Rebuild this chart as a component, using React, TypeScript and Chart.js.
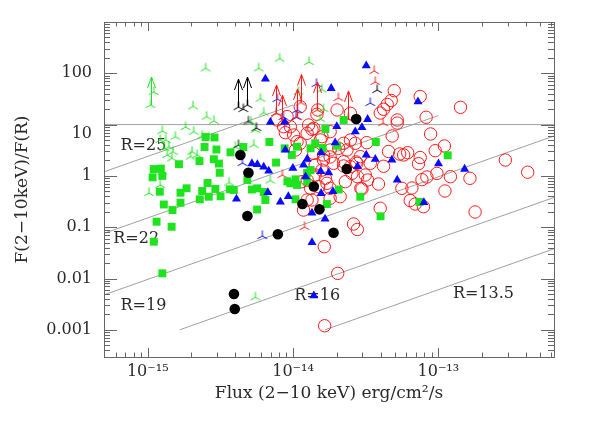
import React, { useEffect, useRef } from "react";
import { Chart, registerables } from "chart.js";

Chart.register(...registerables);

// ---------------- data (flux in units of 1e-15 erg/cm2/s, ratio F(2-10keV)/F(R)) ----------------
const FLUX_UNIT = 1e-15;

const X_MIN = 5.0e-16;
const X_MAX = 6.25e-13;
const Y_MIN = 2.95e-4;
const Y_MAX = 1000;

const X_TICK_EXP = [-15, -14, -13];
const X_TICK_LABELS = ["10⁻¹⁵", "10⁻¹⁴", "10⁻¹³"];
const Y_TICK_EXP = [-3, -2, -1, 0, 1, 2];
const Y_TICK_LABELS: (string | string[])[] = ["0.001", "0.01", "0.1", "1", ["", "10"], "100"];

const X_TITLE = "Flux (2−10 keV) erg/cm²/s";
const Y_TITLE = "F(2−10keV)/F(R)";

// constant-R reference lines: [flux start, ratio start, flux end, ratio end]
const R_LINE_NAMES = ["R=25", "R=22", "R=19", "R=16", "R=13.5"];
const R_LINE_X0 = [0.5, 0.5, 0.5, 1.66, 16.6];
const R_LINE_Y0 = [1.2, 0.076, 0.0048, 0.001, 0.001];
const R_LINE_X1 = [10, 100, 625, 625, 625];
const R_LINE_Y1 = [24, 15, 6.0, 0.38, 0.038];
// label anchors (left edge, vertical centre)
const R_LABEL_X = [0.65, 0.579, 0.65, 10.2, 126];
const R_LABEL_Y = [3.88, 0.058, 0.00295, 0.00462, 0.00499];

const H_LINE_RATIO = 10;

const blackCircleFlux = [4.34, 4.93, 4.85, 7.86, 3.92, 3.97, 11.6, 13.9, 15.2, 19.0, 23.4, 27.2];
const blackCircleRatio = [2.56, 1.15, 0.165, 0.0727, 0.00499, 0.00254, 0.283, 0.62, 0.223, 0.078, 1.36, 12.9];

const blackTriFlux = [4.21, 4.85, 4.55, 4.93, 5.6, 4.21, 37.9];
const blackTriRatio = [22.0, 24.1, 20.1, 11.5, 8.6, 4.0, 47.2];
const blackTriArrow = [1, 1, 0, 0, 0, 0, 0];

const greenTriFlux = [1.045, 1.10, 2.50, 5.80, 8.09, 12.9, 2.05, 5.96, 2.54, 2.85, 1.82, 2.07, 2.37, 2.63, 1.26, 1.55, 1.33, 1.40, 1.36, 1.47, 2.02, 2.19, 1.97, 1.26, 1.22, 1.02, 3.63, 6.98, 5.36, 5.14, 6.28, 10.9, 15.8, 16.2, 15.4, 5.51, 1.22, 1.49, 1.30, 4.01, 5.51];
const greenTriRatio = [24.1, 43.2, 125, 125, 193, 166, 22.7, 32.0, 14.3, 11.8, 8.98, 7.27, 6.08, 5.61, 7.5, 5.81, 5.01, 3.71, 2.56, 2.20, 2.96, 2.56, 2.37, 1.21, 0.665, 0.464, 0.743, 0.813, 4.04, 11.4, 17.1, 43.8, 48.3, 20.1, 12.9, 0.0043, 5.01, 2.96, 3.50, 3.71, 7.85];
const greenTriArrow = [1, 0, 0, 0, 0, 0, 0, 0, 0, 0, 0, 0, 0, 0, 0, 0, 0, 0, 0, 0, 0, 0, 0, 0, 0, 0, 0, 0, 0, 0, 0, 0, 0, 0, 0, 0, 0, 0, 0, 0, 0];

const blueTriFlux = [7.80, 10.7, 14.5, 10.5, 8.58, 34.0, 4.48, 6.15];
const blueTriRatio = [31.5, 19.3, 61.9, 14.1, 14.1, 26.4, 1.78, 0.0674];

const redTriFlux = [36.2, 36.8, 41.7, 8.44, 12.0, 20.5, 7.64, 8.38, 10.7, 11.3, 14.7, 24.0];
const redTriRatio = [111, 67.7, 10.7, 1.04, 0.101, 33.0, 16.8, 10.7, 14.1, 27.0, 19.3, 12.9];
const redTriArrow = [0, 0, 0, 0, 0, 0, 1, 1, 1, 1, 1, 1];

const blueTriangleFlux = [6.45, 6.98, 8.78, 8.85, 5.21, 5.68, 6.28, 6.80, 6.71, 4.08, 8.18, 9.28, 9.97, 31.9, 18.3, 72.4, 20.0, 26.8, 32.6, 29.8, 19.5, 15.6, 31.9, 36.8, 47.9, 100.2, 151.6, 12.5, 11.8, 12.2, 15.5, 17.6, 27.8, 52.1, 18.8, 15.6, 13.5, 16.6, 13.5, 13.9, 79.5];
const blueTriangleRatio = [77.4, 11.2, 11.2, 3.20, 1.74, 1.67, 1.49, 1.25, 0.475, 0.355, 0.310, 0.397, 1.41, 140.6, 51.0, 27.9, 9.18, 7.27, 12.7, 8.78, 4.44, 2.83, 2.56, 2.11, 2.04, 1.73, 1.36, 2.13, 1.63, 0.965, 1.22, 1.16, 1.54, 0.832, 0.497, 0.458, 0.189, 0.1445, 0.0503, 0.00462, 0.303];

const greenSquareFlux = [2.50, 2.88, 2.46, 2.97, 3.71, 4.55, 2.27, 1.64, 2.85, 3.09, 3.13, 1.10, 1.23, 1.08, 1.26, 1.21, 1.68, 1.85, 2.37, 2.58, 2.92, 2.63, 3.17, 3.67, 1.68, 1.29, 1.48, 1.15, 1.46, 1.10, 1.26, 2.28, 4.85, 5.21, 5.66, 6.28, 6.45, 5.66, 3.91, 6.87, 7.64, 8.75, 9.81, 10.65, 13.2, 14.2, 16.0, 16.7, 20.1, 22.3, 37.1, 116, 12.5, 9.14, 10.4, 9.58, 10.65, 12.5, 20.6, 29.0, 10.4, 17.1, 40.0, 74.2, 13.2];
const greenSquareRatio = [5.73, 5.61, 3.66, 3.27, 2.88, 3.66, 1.95, 1.69, 2.11, 1.74, 1.15, 1.36, 1.39, 0.939, 1.0, 0.492, 0.470, 0.573, 0.508, 0.727, 0.556, 0.393, 0.40, 0.548, 0.30, 0.277, 0.216, 0.128, 0.102, 0.0522, 0.0126, 0.35, 0.832, 0.543, 0.573, 0.485, 0.339, 0.221, 0.531, 4.58, 1.82, 3.45, 2.56, 3.71, 3.45, 4.32, 3.50, 8.2, 3.88, 12.3, 4.58, 2.52, 1.15, 0.785, 0.858, 0.718, 0.665, 0.771, 0.543, 0.393, 0.35, 0.283, 0.163, 0.31, 1.30];

const redCircleFlux = [49.7, 75.0, 142, 47.4, 44.5, 42.0, 39.8, 52.1, 52.1, 82.4, 88.5, 48.1, 32.2, 26.8, 110, 95.1, 45.4, 54.2, 57.7, 61.5, 75.0, 73.0, 42.0, 34.0, 31.4, 38.7, 121, 97.7, 83.4, 77.1, 165, 65.8, 56.1, 111, 29.8, 39.8, 64.0, 69.3, 79.0, 179, 26.1, 27.7, 289, 412, 11.8, 16.4, 20.3, 16.5, 7.76, 9.10, 11.2, 9.58, 8.85, 10.1, 12.5, 13.5, 11.2, 10.4, 15.8, 18.0, 20.1, 14.8, 18.0, 22.3, 24.8, 16.2, 13.9, 18.0, 19.0, 22.3, 22.9, 25.4, 27.5, 12.5, 12.5, 15.0, 17.1, 18.0, 13.2, 14.6, 24.8, 13.9, 12.8, 8.61, 10.65, 15.4, 29.0, 23.5, 20.6, 27.2, 32.6, 27.8, 21.1, 18.0, 11.5, 13.5, 14.2, 15.8, 16.7, 14.2, 24.8, 22.3, 16.2, 29.3];
const redCircleRatio = [45.8, 35.3, 21.7, 29.5, 24.7, 19.9, 16.8, 12.3, 10.7, 13.9, 6.56, 6.0, 4.44, 4.32, 3.83, 3.10, 2.99, 2.67, 2.56, 2.83, 2.28, 1.73, 1.54, 1.76, 1.04, 0.695, 0.965, 1.12, 0.952, 0.843, 0.898, 0.581, 0.573, 0.508, 0.556, 0.234, 0.331, 0.283, 0.251, 0.198, 0.1155, 0.0902, 2.04, 1.18, 0.216, 0.0417, 0.0126, 0.0012, 12.3, 14.3, 22.3, 9.10, 6.95, 6.27, 6.77, 8.09, 4.32, 3.20, 5.81, 7.27, 19.3, 19.3, 3.20, 4.32, 5.01, 2.56, 2.76, 2.34, 1.76, 1.89, 0.771, 1.12, 1.76, 0.832, 0.339, 0.616, 0.718, 0.366, 0.573, 15.9, 16.6, 8.47, 9.82, 9.10, 4.64, 5.01, 2.37, 3.20, 3.45, 1.87, 0.832, 0.965, 0.393, 0.573, 0.771, 0.339, 1.63, 1.30, 0.898, 1.04, 1.51, 1.56, 2.04, 0.573];

// ---------------- styles ----------------
const FONT_FAMILY = "'DejaVu Serif', serif";
const TEXT_COLOR = "#2a2a2a";
const FRAME_COLOR = "#666666";
const REF_LINE_COLOR = "#a0a0a0";
const RED = "#ff1a1a";
const GREEN = "#1ee31e";
const BLUE = "#0a0aff";
const BLACK = "#000000";
const ARROW_LEN = 28;

function makeTri(color: string): HTMLCanvasElement {
  const c = document.createElement("canvas");
  c.width = 14;
  c.height = 14;
  const g = c.getContext("2d")!;
  g.strokeStyle = color;
  g.lineWidth = 1;
  const cx = 7, cy = 7, L = 5.5;
  g.beginPath();
  g.moveTo(cx, cy); g.lineTo(cx, cy - L);
  g.moveTo(cx, cy); g.lineTo(cx - L * 0.866, cy + L * 0.5);
  g.moveTo(cx, cy); g.lineTo(cx + L * 0.866, cy + L * 0.5);
  g.stroke();
  return c;
}

const pts = (fx: number[], ry: number[]) => fx.map((f, i) => ({ x: f * FLUX_UNIT, y: ry[i] }));

function decadeIndex(v: number, exps: number[]) {
  const e = Math.log10(v);
  const r = Math.round(e);
  if (Math.abs(e - r) > 1e-6) return -1;
  return exps.indexOf(r);
}

const arrowPlugin = {
  id: "arrows",
  afterDatasetDraw(chart: any, args: any) {
    const ds: any = chart.data.datasets[args.index];
    if (!ds.arrows) return;
    const ctx = chart.ctx;
    ctx.save();
    ctx.strokeStyle = ds.arrowColor;
    ctx.lineWidth = 1;
    args.meta.data.forEach((pt: any, j: number) => {
      if (!ds.arrows[j]) return;
      const x = Math.round(pt.x) + 0.5;
      const y = pt.y;
      const tip = y - ARROW_LEN;
      ctx.beginPath();
      ctx.moveTo(x, y);
      ctx.lineTo(x, tip);
      ctx.moveTo(x - 4, tip + 11);
      ctx.lineTo(x, tip);
      ctx.lineTo(x + 4, tip + 11);
      ctx.stroke();
    });
    ctx.restore();
  },
};

const labelsPlugin = {
  id: "rlabels",
  beforeDatasetsDraw(chart: any) {
    const ctx = chart.ctx;
    const xs = chart.scales.x, ys = chart.scales.y;
    ctx.save();
    ctx.font = `16px ${FONT_FAMILY}`;
    ctx.fillStyle = TEXT_COLOR;
    ctx.textAlign = "left";
    ctx.textBaseline = "middle";
    R_LINE_NAMES.forEach((name, i) => {
      ctx.fillText(name, xs.getPixelForValue(R_LABEL_X[i] * FLUX_UNIT), ys.getPixelForValue(R_LABEL_Y[i]));
    });
    ctx.restore();
  },
};

const framePlugin = {
  id: "frameTicks",
  afterDatasetsDraw(chart: any) {
    const { ctx, chartArea: a } = chart;
    const xs = chart.scales.x, ys = chart.scales.y;
    ctx.save();
    ctx.strokeStyle = FRAME_COLOR;
    ctx.lineWidth = 1;
    ctx.strokeRect(Math.round(a.left) + 0.5, Math.round(a.top) + 0.5, Math.round(a.right - a.left), Math.round(a.bottom - a.top));
    ctx.beginPath();
    const xe0 = Math.floor(Math.log10(X_MIN)), xe1 = Math.ceil(Math.log10(X_MAX));
    for (let e = xe0; e <= xe1; e++) {
      for (let m = 1; m <= 9; m++) {
        const v = m * Math.pow(10, e);
        if (v < X_MIN || v > X_MAX) continue;
        const px = Math.round(xs.getPixelForValue(v)) + 0.5;
        const len = m === 1 ? 9 : 4.5;
        ctx.moveTo(px, a.bottom); ctx.lineTo(px, a.bottom - len);
        ctx.moveTo(px, a.top); ctx.lineTo(px, a.top + len);
      }
    }
    const ye0 = Math.floor(Math.log10(Y_MIN)), ye1 = Math.ceil(Math.log10(Y_MAX));
    for (let e = ye0; e <= ye1; e++) {
      for (let m = 1; m <= 9; m++) {
        const v = m * Math.pow(10, e);
        if (v < Y_MIN || v > Y_MAX) continue;
        const py = Math.round(ys.getPixelForValue(v)) + 0.5;
        const len = m === 1 ? 13 : 6;
        ctx.moveTo(a.left, py); ctx.lineTo(a.left + len, py);
        ctx.moveTo(a.right, py); ctx.lineTo(a.right - len, py);
      }
    }
    ctx.stroke();
    ctx.restore();
  },
};

function buildConfig(): any {
  const font = { family: FONT_FAMILY, size: 16 };
  const titleFont = { family: FONT_FAMILY, size: 17 };
  const refLines = R_LINE_NAMES.map((name, i) => ({
    type: "line",
    label: name,
    data: [
      { x: R_LINE_X0[i] * FLUX_UNIT, y: R_LINE_Y0[i] },
      { x: R_LINE_X1[i] * FLUX_UNIT, y: R_LINE_Y1[i] },
    ],
    borderColor: REF_LINE_COLOR,
    borderWidth: 1,
    pointRadius: 0,
    showLine: true,
    fill: false,
    tension: 0,
    order: 20,
  }));
  const hLine = {
    type: "line",
    label: "ratio10",
    data: [
      { x: X_MIN, y: H_LINE_RATIO },
      { x: X_MAX, y: H_LINE_RATIO },
    ],
    borderColor: REF_LINE_COLOR,
    borderWidth: 1,
    pointRadius: 0,
    showLine: true,
    fill: false,
    order: 20,
  };

  const datasets: any[] = [
    ...refLines,
    hLine,
    {
      label: "red circles",
      data: pts(redCircleFlux, redCircleRatio),
      pointStyle: "circle",
      pointRadius: 6.2,
      borderColor: RED,
      backgroundColor: "rgba(0,0,0,0)",
      borderWidth: 1,
      order: 9,
    },
    {
      label: "green tri",
      data: pts(greenTriFlux, greenTriRatio),
      pointStyle: makeTri(GREEN),
      pointRadius: 5,
      arrows: greenTriArrow,
      arrowColor: GREEN,
      order: 8,
    },
    {
      label: "blue tri",
      data: pts(blueTriFlux, blueTriRatio),
      pointStyle: makeTri(BLUE),
      pointRadius: 5,
      order: 7,
    },
    {
      label: "red tri",
      data: pts(redTriFlux, redTriRatio),
      pointStyle: makeTri(RED),
      pointRadius: 5,
      arrows: redTriArrow,
      arrowColor: RED,
      order: 6,
    },
    {
      label: "black tri",
      data: pts(blackTriFlux, blackTriRatio),
      pointStyle: makeTri(BLACK),
      pointRadius: 5,
      arrows: blackTriArrow,
      arrowColor: BLACK,
      order: 5,
    },
    {
      label: "green squares",
      data: pts(greenSquareFlux, greenSquareRatio),
      pointStyle: "rect",
      pointRadius: 5.6,
      borderWidth: 0,
      borderColor: GREEN,
      backgroundColor: GREEN,
      order: 4,
    },
    {
      label: "blue triangles",
      data: pts(blueTriangleFlux, blueTriangleRatio),
      pointStyle: "triangle",
      pointRadius: 5.2,
      borderWidth: 0,
      borderColor: BLUE,
      backgroundColor: BLUE,
      order: 3,
    },
    {
      label: "black circles",
      data: pts(blackCircleFlux, blackCircleRatio),
      pointStyle: "circle",
      pointRadius: 5.3,
      borderWidth: 0,
      borderColor: BLACK,
      backgroundColor: BLACK,
      order: 1,
    },
  ];

  return {
    type: "scatter",
    data: { datasets },
    options: {
      animation: false,
      responsive: false,
      devicePixelRatio: 1,
      events: [],
      layout: { padding: { left: 0, top: 22, right: 35, bottom: 0 } },
      plugins: { legend: { display: false }, tooltip: { enabled: false } },
      scales: {
        x: {
          type: "logarithmic",
          position: "bottom",
          min: X_MIN,
          max: X_MAX,
          grid: { display: false, drawTicks: false },
          border: { display: false },
          ticks: {
            autoSkip: false,
            maxRotation: 0,
            minRotation: 0,
            padding: 5,
            font,
            color: TEXT_COLOR,
            callback: (v: any) => {
              const i = decadeIndex(Number(v), X_TICK_EXP);
              return i >= 0 ? X_TICK_LABELS[i] : "";
            },
          },
          title: { display: true, text: X_TITLE, font: titleFont, color: TEXT_COLOR, padding: { top: 0, bottom: 36 } },
          afterFit: (s: any) => { s.height = 83; },
        },
        y: {
          type: "logarithmic",
          position: "left",
          min: Y_MIN,
          max: Y_MAX,
          grid: { display: false, drawTicks: false },
          border: { display: false },
          ticks: {
            autoSkip: false,
            padding: 12,
            font,
            color: TEXT_COLOR,
            callback: (v: any) => {
              const i = decadeIndex(Number(v), Y_TICK_EXP);
              return i >= 0 ? Y_TICK_LABELS[i] : "";
            },
          },
          title: { display: true, text: Y_TITLE, font: titleFont, color: TEXT_COLOR, padding: { top: 12, bottom: 0 } },
          afterFit: (s: any) => { s.width = 104; },
        },
      },
    },
    plugins: [labelsPlugin, arrowPlugin, framePlugin],
  };
}

export default function App() {
  const ref = useRef<HTMLCanvasElement>(null);
  useEffect(() => {
    const canvas = ref.current;
    if (!canvas) return;
    const chart = new Chart(canvas, buildConfig());
    return () => chart.destroy();
  }, []);
  return (
    <div style={{ position: "fixed", left: 0, top: 0, width: 589, height: 440, background: "#ffffff" }}>
      <canvas ref={ref} width={589} height={440} style={{ display: "block", width: 589, height: 440 }} />
    </div>
  );
}
